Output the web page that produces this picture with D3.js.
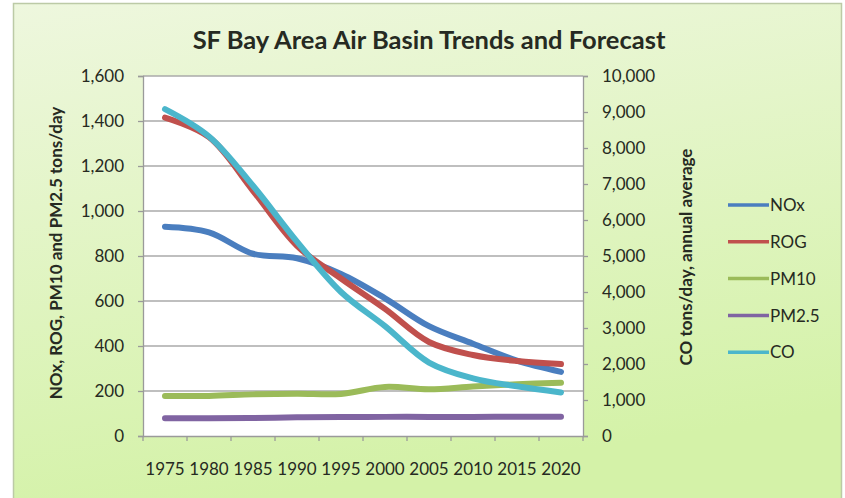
<!DOCTYPE html>
<html>
<head>
<meta charset="utf-8">
<script src="https://cdn.jsdelivr.net/npm/d3@7"></script>
<style>
  html, body { margin: 0; padding: 0; background: #ffffff; }
  svg { display: block; }
  text { font-family: Lato, "Open Sans", sans-serif; fill: #262a22; }
</style>
</head>
<body>
<svg id="chart" width="845" height="498"></svg>
<script>
const years = ["1975","1980","1985","1990","1995","2000","2005","2010","2015","2020"];
const nox   = [930, 905, 810, 790, 720, 612, 488, 410, 335, 285];
const rog   = [1415, 1328, 1090, 845, 700, 565, 418, 360, 333, 320];
const pm10  = [178, 178, 185, 188, 187, 218, 208, 220, 230, 237];
const pm25  = [79, 79, 80, 83, 84, 85, 85, 85, 86, 86];
const co    = [9080, 8320, 6950, 5400, 4000, 3050, 2040, 1600, 1380, 1210];
const leftTicks  = [0, 200, 400, 600, 800, 1000, 1200, 1400, 1600];
const rightTicks = [0, 1000, 2000, 3000, 4000, 5000, 6000, 7000, 8000, 9000, 10000];
const seriesNames = ["NOx", "ROG", "PM10", "PM2.5", "CO"];
const title = "SF Bay Area Air Basin Trends and Forecast";
const leftLabel = "NOx, ROG, PM10 and PM2.5 tons/day";
const rightLabel = "CO tons/day, annual average";

const colors = { "NOx": "#4a7ebf", "ROG": "#c0504d", "PM10": "#9bbb59", "PM2.5": "#8064a2", "CO": "#4bb6cb" };
const series = [
  { name: "NOx",   values: nox,  axis: "L" },
  { name: "ROG",   values: rog,  axis: "L" },
  { name: "PM10",  values: pm10, axis: "L" },
  { name: "PM2.5", values: pm25, axis: "L" },
  { name: "CO",    values: co,   axis: "R" }
];

const svg = d3.select("#chart");
const defs = svg.append("defs");
const grad = defs.append("linearGradient").attr("id", "bg").attr("x1", 0).attr("y1", 0).attr("x2", 0.25).attr("y2", 1);
grad.append("stop").attr("offset", "0%").attr("stop-color", "#eef7de");
grad.append("stop").attr("offset", "100%").attr("stop-color", "#d4f2a8");

svg.append("rect").attr("x", 13.5).attr("y", 3.5).attr("width", 828).attr("height", 500)
  .attr("fill", "url(#bg)").attr("stroke", "#bccaa6").attr("stroke-width", 1.5);

const plot = { left: 143, right: 583, top: 76, bottom: 436 };
const x = d3.scaleBand().domain(years).range([plot.left, plot.right]);
const yL = d3.scaleLinear().domain([0, 1600]).range([plot.bottom, plot.top]);
const yR = d3.scaleLinear().domain([0, 10000]).range([plot.bottom, plot.top]);

// plot area
svg.append("rect").attr("x", plot.left).attr("y", plot.top)
  .attr("width", plot.right - plot.left).attr("height", plot.bottom - plot.top).attr("fill", "#ffffff");

// gridlines
svg.append("g").selectAll("line").data(leftTicks.filter(d => d > 0)).join("line")
  .attr("x1", plot.left).attr("x2", plot.right)
  .attr("y1", d => yL(d)).attr("y2", d => yL(d))
  .attr("stroke", "#aaaaaa").attr("stroke-width", 1.5);

// left axis
const gL = svg.append("g").attr("transform", `translate(${plot.left},0)`)
  .call(d3.axisLeft(yL).tickValues(leftTicks).tickSize(5).tickPadding(14).tickFormat(d3.format(",")));
gL.selectAll("text").style("font-size", "17px").attr("fill", "#2b3024");
gL.selectAll("line, path").attr("stroke", "#9a9a9a").attr("stroke-width", 1.3);

// right axis
const gR = svg.append("g").attr("transform", `translate(${plot.right},0)`)
  .call(d3.axisRight(yR).tickValues(rightTicks).tickSize(5).tickPadding(14).tickFormat(d3.format(",")));
gR.selectAll("text").style("font-size", "17px").attr("fill", "#2b3024");
gR.selectAll("line, path").attr("stroke", "#9a9a9a").attr("stroke-width", 1.3);

// bottom axis
const gB = svg.append("g").attr("transform", `translate(0,${plot.bottom})`)
  .call(d3.axisBottom(x).tickSize(0).tickPadding(27));
gB.selectAll("text").style("font-size", "17px").attr("fill", "#2b3024");
gB.select("path").attr("stroke", "#9a9a9a").attr("stroke-width", 1.3);
const bounds = years.map(d => x(d)).concat([x(years[years.length - 1]) + x.bandwidth()]);
gB.selectAll("line.bt").data(bounds).join("line").attr("class", "bt")
  .attr("x1", d => d).attr("x2", d => d).attr("y1", 0).attr("y2", 5)
  .attr("stroke", "#9a9a9a").attr("stroke-width", 1.3);

// lines
const lineFor = s => d3.line()
  .x((d, i) => x(years[i]) + x.bandwidth() / 2)
  .y(d => (s.axis === "L" ? yL(d) : yR(d)))
  .curve(d3.curveCatmullRom.alpha(0.5));
svg.append("g").selectAll("path").data(series).join("path")
  .attr("d", s => lineFor(s)(s.values))
  .attr("fill", "none").attr("stroke", s => colors[s.name])
  .attr("stroke-width", 6).attr("stroke-linejoin", "round").attr("stroke-linecap", "round");

// title
svg.append("text").attr("x", 429).attr("y", 49).attr("text-anchor", "middle")
  .style("font-size", "25.5px").style("font-weight", "bold").attr("fill", "#1e1e1e").text(title);

// axis titles
svg.append("text").attr("transform", "translate(62,253) rotate(-90)").attr("text-anchor", "middle")
  .style("font-size", "17px").style("font-weight", "bold").attr("fill", "#1e1e1e").text(leftLabel);
svg.append("text").attr("transform", "translate(692,257) rotate(-90)").attr("text-anchor", "middle")
  .style("font-size", "17px").style("font-weight", "bold").attr("fill", "#1e1e1e").text(rightLabel);

// legend
const leg = svg.append("g").selectAll("g").data(seriesNames).join("g")
  .attr("transform", (d, i) => `translate(728,${205 + i * 36.8})`);
leg.append("line").attr("x1", 0).attr("x2", 41).attr("y1", 0).attr("y2", 0)
  .attr("stroke", d => colors[d]).attr("stroke-width", 3.5);
leg.append("text").attr("x", 42).attr("y", 0).attr("dy", "0.36em")
  .style("font-size", "17px").attr("fill", "#2b3024").text(d => d);
</script>
</body>
</html>
